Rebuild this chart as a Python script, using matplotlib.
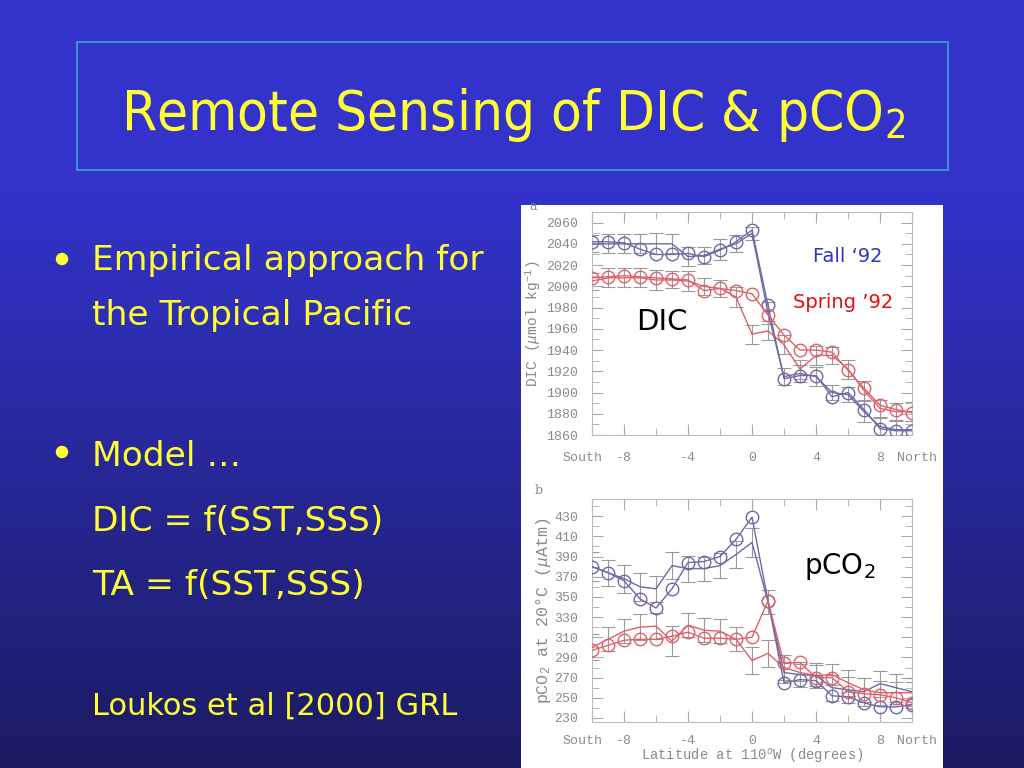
import numpy as np
import matplotlib
matplotlib.use("Agg")
import matplotlib.pyplot as plt
import matplotlib.patches as patches
from matplotlib.ticker import FixedLocator
from matplotlib.transforms import ScaledTranslation

plt.rcParams['mathtext.fontset'] = 'custom'
plt.rcParams['mathtext.rm'] = 'Liberation Mono'
plt.rcParams['mathtext.it'] = 'Liberation Mono:italic'
plt.rcParams['mathtext.bf'] = 'Liberation Mono:bold'

# latitude along 110W, one station per degree
lat = np.arange(-10, 11)

# DIC (umol/kg), circles = observed, plain line = model
dic_fall_obs = [2042, 2042, 2041, 2035, 2030, 2030, 2031, 2028, 2034, 2042, 2053,
                1982, 1913, 1916, 1916, 1896, 1900, 1884, 1866, 1864, 1864]
dic_fall_mod = [2040, 2040, 2040, 2040, 2040, 2040, 2028, 2029, 2035, 2040, 2050,
                1975, 1915, 1918, 1915, 1900, 1898, 1882, 1868, 1865, 1865]
dic_fall_err = [8, 9, 9, 9, 10, 9, 9, 8, 10, 8, 6,
                10, 8, 8, 9, 7, 7, 10, 8, 8, 8]
dic_spr_obs = [2008, 2009, 2010, 2009, 2008, 2007, 2006, 1996, 1998, 1996, 1993,
               1973, 1954, 1940, 1940, 1938, 1921, 1904, 1888, 1884, 1881]
dic_spr_mod = [2005, 2008, 2008, 2008, 2006, 2006, 2005, 2000, 1998, 1990, 1955,
               1958, 1945, 1922, 1935, 1935, 1922, 1902, 1885, 1882, 1882]
dic_spr_err = [8, 9, 9, 9, 9, 8, 9, 8, 8, 9, 9,
               9, 9, 9, 9, 8, 9, 9, 8, 8, 9]

# pCO2 at 20C (uatm)
pco2_fall_obs = [380, 374, 366, 348, 339, 358, 384, 385, 390, 407, 429,
                 346, 265, 268, 267, 252, 251, 245, 241, 241, 243]
pco2_fall_mod = [380, 374, 368, 360, 358, 381, 378, 378, 381, 392, 404,
                 345, 275, 273, 272, 260, 258, 256, 264, 260, 256]
pco2_fall_err = [14, 13, 14, 14, 13, 13, 13, 12, 12, 13, 14,
                 12, 10, 12, 12, 13, 13, 14, 13, 14, 14]
pco2_spr_obs = [297, 302, 307, 308, 308, 311, 315, 309, 309, 308, 310,
                346, 284, 285, 270, 270, 256, 254, 253, 250, 245]
pco2_spr_mod = [300, 308, 316, 320, 321, 306, 322, 317, 316, 308, 287,
                294, 280, 275, 272, 273, 265, 258, 255, 255, 255]
pco2_spr_err = [13, 12, 12, 13, 13, 15, 12, 12, 12, 12, 13,
                13, 12, 8, 10, 10, 13, 12, 12, 11, 11]

xtick_pos = [-10, -8, -4, 0, 4, 8, 10]
xtick_lab = ['South', '-8', '-4', '0', '4', '8', 'North']
dic_ticks = np.arange(1860, 2061, 20)
pco2_ticks = np.arange(230, 431, 20)

fall_col = '#6a6aa8'
spr_col = '#e0606a'
gray = '#8a8a8a'
yellow = '#ffff33'
mono = 'Liberation Mono'

fig = plt.figure(figsize=(10.24, 7.68), dpi=100)

# slide background
bg = fig.add_axes([0, 0, 1, 1])
rows = np.linspace(0, 1, 768)
t = np.clip((rows - 190 / 768) / (1 - 190 / 768), 0, 1)
top = np.array([51, 51, 204]) / 255
bot = np.array([27, 27, 98]) / 255
grad = top[None, :] * (1 - t[:, None]) + bot[None, :] * t[:, None]
bg.imshow(grad[:, None, :], aspect='auto', extent=[0, 1, 0, 1], origin='upper')
bg.set_xlim(0, 1)
bg.set_ylim(0, 1)
bg.axis('off')


def px(x, y):
    return x / 1024, 1 - y / 768


# title box
bg.add_patch(patches.Rectangle(px(77, 170), 871 / 1024, 128 / 768,
                               fill=False, edgecolor='#3aa6d0', linewidth=1.2))
bg.text(*px(513, 130), r'Remote Sensing of DIC & pCO$_\mathregular{2}$',
        color=yellow, fontsize=40.5, ha='center', va='baseline',
        family='DejaVu Sans', fontstretch='condensed')

# bullets
bul = dict(color=yellow, fontsize=24.8, va='baseline', family='DejaVu Sans')
for y in [259, 452]:
    bg.add_patch(patches.Ellipse(px(62, y), 11 / 1024, 11 / 768, color=yellow))
bg.text(*px(92, 270), 'Empirical approach for', **bul)
bg.text(*px(92, 325), 'the Tropical Pacific', **bul)
bg.text(*px(92, 466), 'Model \u2026', **bul)
bg.text(*px(92, 531), 'DIC = f(SST,SSS)', **bul)
bg.text(*px(92, 595), 'TA = f(SST,SSS)', **bul)
bg.text(*px(92, 715), 'Loukos et al [2000] GRL', color=yellow, fontsize=22,
        va='baseline', family='DejaVu Sans')

# white figure panel
bg.add_patch(patches.Rectangle(px(521, 768), 422 / 1024, 563 / 768,
                               facecolor='white', edgecolor='none'))


def style_axes(ax, ylim, yticks, xpad):
    ax.set_xlim(-10, 10)
    ax.set_ylim(*ylim)
    ax.xaxis.set_major_locator(FixedLocator(xtick_pos))
    ax.set_xticklabels(xtick_lab)
    ax.xaxis.set_minor_locator(FixedLocator(np.arange(-10, 11, 2)))
    ax.yaxis.set_major_locator(FixedLocator(yticks))
    ax.yaxis.set_minor_locator(FixedLocator(np.arange(yticks[0], ylim[1], 10)))
    ax.tick_params(which='both', direction='in', top=True, right=True, color='#aaaaaa',
                   labelcolor=gray, labelsize=9.5)
    ax.tick_params(axis='y', pad=10)
    ax.tick_params(axis='x', pad=xpad)
    ax.tick_params(which='major', length=8)
    ax.tick_params(which='minor', length=5)
    for lab in ax.get_xticklabels() + ax.get_yticklabels():
        lab.set_fontfamily(mono)
    labs = ax.get_xticklabels()
    labs[0].set_transform(labs[0].get_transform() + ScaledTranslation(-0.09, 0, fig.dpi_scale_trans))
    labs[-1].set_transform(labs[-1].get_transform() + ScaledTranslation(0.05, 0, fig.dpi_scale_trans))
    for s in ax.spines.values():
        s.set_color('#bbbbbb')
        s.set_linewidth(0.8)


def draw(ax, fo, fm, fe, so, sm, se):
    for mod, err in [(fm, fe), (sm, se)]:
        ax.errorbar(lat, mod, yerr=err, fmt='none', ecolor='#999999', elinewidth=0.8,
                    capsize=5, capthick=0.8, zorder=2)
    ax.plot(lat, fm, color=fall_col, lw=1.0, zorder=3)
    ax.plot(lat, sm, color=spr_col, lw=1.0, zorder=3)
    ax.plot(lat, fo, color=fall_col, lw=1.0, marker='o', ms=9, mfc='none',
            mec=fall_col, mew=1.0, zorder=4)
    ax.plot(lat, so, color=spr_col, lw=1.0, marker='o', ms=9, mfc='none',
            mec=spr_col, mew=1.0, zorder=4)


ax1 = fig.add_axes([592 / 1024, 1 - 435 / 768, 320 / 1024, 223 / 768])
draw(ax1, dic_fall_obs, dic_fall_mod, dic_fall_err, dic_spr_obs, dic_spr_mod, dic_spr_err)
style_axes(ax1, (1860, 2070), dic_ticks, 12)
ax1.set_ylabel(r'DIC ($\mu$mol kg$^{-1}$)', color=gray, fontsize=10.5,
               family=mono, labelpad=2)

ax2 = fig.add_axes([592 / 1024, 1 - 722 / 768, 320 / 1024, 223 / 768])
draw(ax2, pco2_fall_obs, pco2_fall_mod, pco2_fall_err, pco2_spr_obs, pco2_spr_mod, pco2_spr_err)
style_axes(ax2, (226, 447), pco2_ticks, 9)
ax2.set_ylabel(r'pCO$_2$ at 20$\degree$C ($\mu$Atm)', color=gray, fontsize=12,
               family=mono, labelpad=1)
ax2.set_xlabel(r'Latitude at 110$^o$W (degrees)', color=gray, fontsize=10,
               family=mono, labelpad=0)

# annotations on the slide
def fig_text(x, y, s, **kw):
    fig.text(*px(x, y), s, ha='center', va='center', **kw)


fig_text(848, 256, 'Fall \u201892', color='#3333bb', fontsize=14, family='DejaVu Sans')
fig_text(843, 303, 'Spring \u201992', color='#e01010', fontsize=14, family='DejaVu Sans')
fig_text(662, 322, 'DIC', color='black', fontsize=21, family='DejaVu Sans')
fig_text(840, 566, r'pCO$_\mathregular{2}$', color='black', fontsize=20, family='DejaVu Sans')
fig_text(533, 206, 'a', color=gray, fontsize=9, family='DejaVu Serif')
fig_text(539, 490, 'b', color=gray, fontsize=9, family='DejaVu Serif')

fig.savefig('out.png', dpi=100)
